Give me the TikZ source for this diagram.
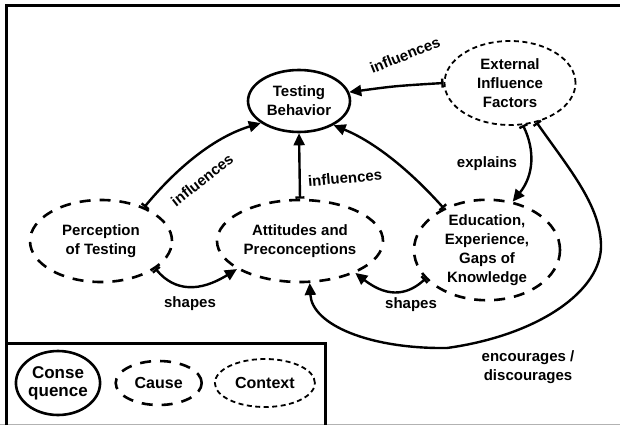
\documentclass[tikz,border=0pt]{standalone}
\usepackage{fontspec}
\setmainfont{Liberation Sans}
\usetikzlibrary{positioning, shapes.geometric, arrows.meta}

\begin{document}
\begin{tikzpicture}[
    x=1pt, y=-1pt,
    font=\bfseries\fontsize{15}{19}\selectfont,
    consq/.style={draw, ellipse, line width=2.6pt, inner sep=0pt, align=center},
    cause/.style={draw, ellipse, line width=2.6pt, dash pattern=on 11pt off 9pt, inner sep=0pt, align=center},
    contxt/.style={draw, ellipse, line width=1.8pt, dash pattern=on 5pt off 3.5pt, inner sep=0pt, align=center},
    arrow/.style={{Bar[width=9pt]}-{Triangle[length=12pt,width=11pt]}, line width=2.4pt},
    lbl/.style={inner sep=1pt, align=center}
]
\useasboundingbox (0,0) rectangle (620,425);

% Frame and legend box
\draw[gray!60, line width=0.8pt] (0,424.5) -- (620,424.5);
\draw[line width=3pt] (6.5,425) -- (6.5,5.5) -- (620,5.5);
\draw[line width=3pt] (6.5,343) -- (325,343) -- (325,425);

% Consequence
\node[consq, minimum width=102pt, minimum height=62pt] (tb) at (299,101) {Testing\\Behavior};

% Context
\node[contxt, minimum width=131pt, minimum height=84pt] (ext) at (510,83) {External\\Influence\\Factors};

% Causes
\node[cause, minimum width=142pt, minimum height=82pt] (perc) at (101,241) {Perception\\of Testing};
\node[cause, minimum width=166pt, minimum height=82pt] (att) at (300,241) {Attitudes and\\Preconceptions};
\node[cause, minimum width=146pt, minimum height=100pt] (edu) at (487,250) {Education,\\Experience,\\Gaps of\\Knowledge};

% Legend
\node[consq, minimum width=84pt, minimum height=64pt, font=\bfseries\fontsize{17}{18}\selectfont] (lgConsq) at (58,383) {Conse\\quence};
\node[cause, minimum width=86pt, minimum height=44pt, font=\bfseries\fontsize{16}{18}\selectfont, right=13pt of lgConsq] (lgCause) {Cause};
\node[contxt, minimum width=100pt, minimum height=48pt, font=\bfseries\fontsize{16}{18}\selectfont, right=11pt of lgCause] (lgContxt) {Context};

% Edges
\draw[arrow] (ext.west) .. controls (395,86) .. (tb.10);
\draw[arrow] (perc.38) .. controls (165,182) and (205,140) .. (tb.210);
\draw[arrow] (att.north) -- (tb.south);
\draw[arrow] (edu.136) .. controls (405,165) and (370,140) .. (tb.-35);
\draw[arrow] (perc.-27) .. controls (175,292) and (200,292) .. (att.204);
\draw[arrow] (ext.-73) .. controls (535,150) and (534,175) .. (edu.62);
\draw[arrow] (edu.205) .. controls (410,293) and (390,300) .. (att.-30);
\draw[arrow] (ext.-56) .. controls (570,170) and (600,205) .. (601,245)
    .. controls (602,290) and (540,335) .. (447,348)
    .. controls (370,349) and (312,325) .. (att.-77);

% Edge labels
\node[lbl, rotate=22] (lInflExt) at (405,55) {influences};
\node[lbl, rotate=38] (lInflPerc) at (202,180) {influences};
\node[lbl, rotate=5] (lInflAtt) at (345,178) {influences};
\node[lbl] (lExpl) at (487,164) {explains};
\node[lbl] (lShpPerc) at (190,304) {shapes};
\node[lbl] (lShpEdu) at (411,305) {shapes};
\node[lbl] (lEnc) at (528,367) {encourages /\\discourages};
\end{tikzpicture}
\end{document}
